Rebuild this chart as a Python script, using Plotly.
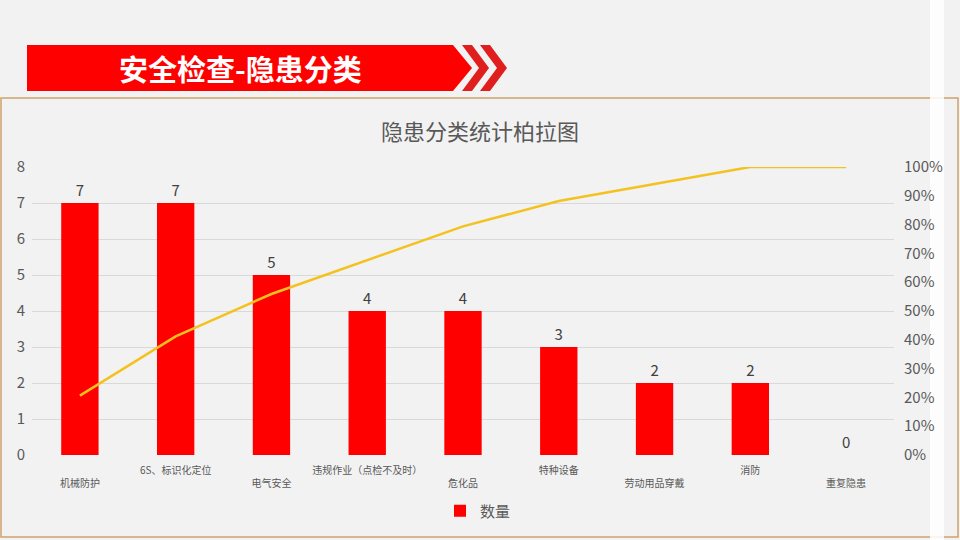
import plotly.graph_objects as go

# === Dados === #
categorias = ["机械防护", "6S、标识化定位", "电气安全", "违规作业（点检不及时）", "危化品",
              "特种设备", "劳动用品穿戴", "消防", "重复隐患"]
quantidade = [7, 7, 5, 4, 4, 3, 2, 2, 0]
acumulado = [20.6, 41.2, 55.9, 67.6, 79.4, 88.2, 94.1, 100, 100]

W, H = 960, 540
FONTE = "Noto Sans CJK SC"


def px(x, y):
    # pixel (origem no topo) -> coordenadas paper
    return x / W, 1 - y / H


# rótulos alternados (como o Excel faz)
rotulos = [("<br>" + c if i % 2 == 0 else c) for i, c in enumerate(categorias)]

fig = go.Figure()

fig.add_trace(go.Bar(
    x=categorias, y=quantidade,
    name="数量",
    marker=dict(color="#ff0000", line=dict(width=0)),
    width=0.39,
    text=[str(v) for v in quantidade],
    textposition="outside",
    textfont=dict(size=15, color="#404040", family=FONTE),
    cliponaxis=False,
))

fig.add_trace(go.Scatter(
    x=categorias, y=acumulado,
    mode="lines",
    yaxis="y2",
    line=dict(color="#f4c21f", width=2.5),
    showlegend=False,
    hoverinfo="skip",
))

# === Formas: faixa do título, moldura === #
shapes = []


def caminho(pontos):
    s = ""
    for i, (x, y) in enumerate(pontos):
        xp, yp = px(x, y)
        s += ("M" if i == 0 else "L") + f"{xp:.5f},{yp:.5f} "
    return s + "Z"


# moldura do gráfico
x0, y0 = px(1, 98)
x1, y1 = px(958, 537)
shapes.append(dict(type="rect", xref="paper", yref="paper", x0=x0, y0=y1, x1=x1, y1=y0,
                   line=dict(color="#cfa26a", width=1.5), fillcolor="rgba(0,0,0,0)", layer="below"))

# faixa branca vertical à direita
fx0, _ = px(930, 0)
fx1, _ = px(944, 0)
shapes.append(dict(type="rect", xref="paper", yref="paper", x0=fx0, x1=fx1, y0=0, y1=1,
                   line=dict(width=0), fillcolor="rgba(255,255,255,0.85)", layer="below"))

# seta vermelha principal
shapes.append(dict(type="path", xref="paper", yref="paper",
                   path=caminho([(27, 45), (453, 45), (472, 68), (453, 91), (27, 91)]),
                   fillcolor="#ff0000", line=dict(color="#ff0000", width=0)))
# chevrons
for dx in (0, 18):
    shapes.append(dict(type="path", xref="paper", yref="paper",
                       path=caminho([(462 + dx, 45), (472 + dx, 45), (489 + dx, 68),
                                     (472 + dx, 91), (462 + dx, 91), (479 + dx, 68)]),
                       fillcolor="#e01e1e", line=dict(width=0)))

tx, ty = px(240, 68)
annotations = [dict(
    text="<b>安全检查-隐患分类</b>", xref="paper", yref="paper", x=tx, y=ty,
    xanchor="center", yanchor="middle", showarrow=False,
    font=dict(size=29, color="white", family=FONTE),
)]

dx0, _ = px(32, 0)
dx1, _ = px(894, 0)
_, dy0 = px(0, 455)
_, dy1 = px(0, 167)
_, tity = px(0, 132)
_, legy = px(0, 511)
legx, _ = px(478, 0)

fig.update_layout(
    width=W, height=H,
    autosize=False,
    margin=dict(l=0, r=0, t=0, b=0, pad=0, autoexpand=False),
    paper_bgcolor="#f2f2f2",
    plot_bgcolor="rgba(0,0,0,0)",
    font=dict(family=FONTE, color="#595959"),
    title=dict(text="隐患分类统计柏拉图", x=0.5, xanchor="center", y=tity, yanchor="middle",
               font=dict(size=22, color="#595959", family=FONTE)),
    xaxis=dict(
        domain=[dx0, dx1], automargin=False,
        tickmode="array", tickvals=categorias, ticktext=rotulos,
        tickfont=dict(size=10, color="#595959"),
        showgrid=False, showline=False, zeroline=False, ticks="",
        tickangle=0,
        ticklabelstandoff=8,
    ),
    yaxis=dict(
        domain=[dy0, dy1], range=[0, 8], dtick=1, automargin=False,
        showgrid=True, gridcolor="#d9d9d9", gridwidth=1,
        zeroline=False, showline=False,
        tickfont=dict(size=15, color="#595959"),
        ticklabelstandoff=6,
    ),
    yaxis2=dict(
        overlaying="y", side="right", range=[0, 100], dtick=10, automargin=False,
        ticksuffix="%", showgrid=False, zeroline=False, showline=False,
        tickfont=dict(size=15, color="#595959"),
        ticklabelstandoff=9,
    ),
    showlegend=True,
    legend=dict(orientation="h", x=legx, xanchor="center", y=legy, yanchor="middle",
                itemwidth=30,
                font=dict(size=15, color="#595959"), bgcolor="rgba(0,0,0,0)"),
    shapes=shapes,
    annotations=annotations,
    bargap=0.6,
)

# sem margem do body, para a figura ocupar a janela inteira
fig.write_html("out.html",
               config={"displayModeBar": False},
               post_script="document.body.style.margin='0';document.body.style.overflow='hidden';")
